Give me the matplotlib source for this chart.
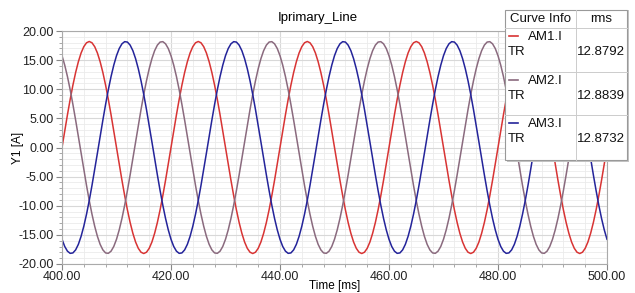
import numpy as np
import matplotlib.pyplot as plt
from matplotlib.patches import Rectangle
from matplotlib.lines import Line2D
from matplotlib.ticker import MultipleLocator

plt.rcParams['font.family'] = ['Liberation Sans', 'DejaVu Sans']

# one period (20 ms) of each phase current, read at 0.5 ms steps
am1_period = [0.00, 2.85, 5.62, 8.26, 10.70, 12.87, 14.72, 16.22, 17.31, 17.98,
              18.20, 17.98, 17.31, 16.22, 14.72, 12.87, 10.70, 8.26, 5.62, 2.85,
              0.00, -2.85, -5.62, -8.26, -10.70, -12.87, -14.72, -16.22, -17.31, -17.98,
              -18.20, -17.98, -17.31, -16.22, -14.72, -12.87, -10.70, -8.26, -5.62, -2.85]
am2_period = [15.76, 14.14, 12.18, 9.91, 7.40, 4.71, 1.90, -0.95, -3.78, -6.52,
              -9.10, -11.45, -13.52, -15.26, -16.63, -17.58, -18.10, -18.17, -17.80, -16.99,
              -15.76, -14.14, -12.18, -9.91, -7.40, -4.71, -1.90, 0.95, 3.78, 6.52,
              9.10, 11.45, 13.52, 15.26, 16.63, 17.58, 18.10, 18.17, 17.80, 16.99]
am3_period = [-15.76, -16.99, -17.80, -18.17, -18.10, -17.58, -16.63, -15.26, -13.52, -11.45,
              -9.10, -6.52, -3.78, -0.95, 1.90, 4.71, 7.40, 9.91, 12.18, 14.14,
              15.76, 16.99, 17.80, 18.17, 18.10, 17.58, 16.63, 15.26, 13.52, 11.45,
              9.10, 6.52, 3.78, 0.95, -1.90, -4.71, -7.40, -9.91, -12.18, -14.14]
n_periods = 5
time_ms = np.arange(400, 500.25, 0.5)

names = ['AM1.I', 'AM2.I', 'AM3.I']
rms = ['12.8792', '12.8839', '12.8732']
colors = ['#d83434', '#8a6a7e', '#24249a']


def full(period):
    vals = period * n_periods
    return vals + [period[0]]


series = [full(am1_period), full(am2_period), full(am3_period)]

fig = plt.figure(figsize=(6.35, 2.93), dpi=100)
W, H = 635, 293
ax = fig.add_axes([62 / W, 1 - 264 / H, (607 - 62) / W, (264 - 31) / H])

for ys, c in zip(series, colors):
    ax.plot(time_ms, ys, color=c, lw=1.1)

ax.set_xlim(400, 500)
ax.set_ylim(-20, 20)
ax.xaxis.set_major_locator(MultipleLocator(20))
ax.xaxis.set_minor_locator(MultipleLocator(4))
ax.yaxis.set_major_locator(MultipleLocator(5))
ax.yaxis.set_minor_locator(MultipleLocator(1))
ax.xaxis.set_major_formatter(lambda v, p: '%.2f' % v)
ax.yaxis.set_major_formatter(lambda v, p: '%.2f' % v)
ax.grid(which='major', color='#d8d8d8', lw=0.8)
ax.grid(which='minor', color='#ebebeb', lw=0.6)
ax.set_axisbelow(True)
ax.tick_params(labelsize=9, colors='#888888', labelcolor='#222222', length=4)
ax.tick_params(axis='x', pad=1)
ax.tick_params(axis='y', pad=2)
ax.tick_params(which='minor', length=2, colors='#999999')
for s in ax.spines.values():
    s.set_color('#aaaaaa')
    s.set_linewidth(0.8)

fig.text(318 / W, 1 - 18 / H, 'Iprimary_Line', fontsize=9.5, ha='center', va='center')
fig.text(335 / W, 1 - 286 / H, 'Time [ms]', fontsize=8.5, ha='center', va='center')
fig.text(18 / W, 1 - 148 / H, 'Y1 [A]', fontsize=8.5, ha='center', va='center', rotation=90)

# legend table (figure pixel coordinates)
def fx(x):
    return x / W


def fy(y):
    return 1 - y / H


fig.patches.append(Rectangle((fx(507), fy(162)), fx(122), 152 / H, transform=fig.transFigure,
                             facecolor='#c4c4c4', edgecolor='none', zorder=9))
fig.patches.append(Rectangle((fx(505), fy(160)), fx(122), 150 / H, transform=fig.transFigure,
                             facecolor='white', edgecolor='#999999', lw=0.8, zorder=10))
lk = dict(transform=fig.transFigure, color='#cccccc', lw=0.7, zorder=11)
fig.lines.append(Line2D([fx(576), fx(576)], [fy(10), fy(160)], **lk))
for yy in [28, 72, 115]:
    fig.lines.append(Line2D([fx(505), fx(627)], [fy(yy), fy(yy)], **lk))

tk = dict(fontsize=9.5, zorder=12, color='#111111')
fig.text(fx(540), fy(19), 'Curve Info', ha='center', va='center', **tk)
fig.text(fx(601), fy(19), 'rms', ha='center', va='center', **tk)
row_top = [28, 72, 115]
for i in range(3):
    y0 = row_top[i]
    fig.lines.append(Line2D([fx(509), fx(518)], [fy(y0 + 8), fy(y0 + 8)],
                            transform=fig.transFigure, color=colors[i], lw=1.2, zorder=12))
    fig.text(fx(528), fy(y0 + 9), names[i], ha='left', va='center', **tk)
    fig.text(fx(508), fy(y0 + 24), 'TR', ha='left', va='center', **tk)
    fig.text(fx(625), fy(y0 + 24), rms[i], ha='right', va='center', **tk)

fig.savefig('out.png', dpi=100)
